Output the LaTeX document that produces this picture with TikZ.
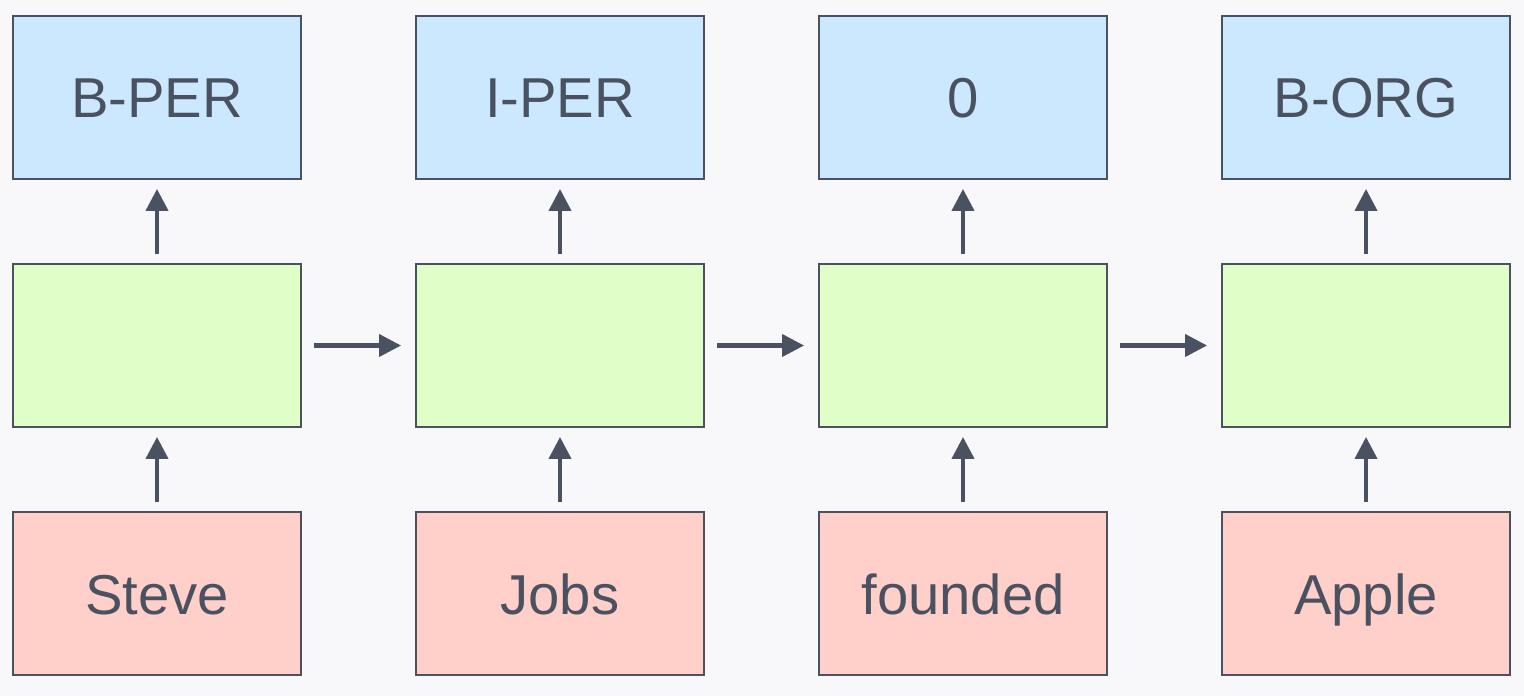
\documentclass[tikz,border=0pt]{standalone}
\usepackage{fontspec}
\setmainfont{Liberation Sans}
\usetikzlibrary{arrows.meta,positioning}
\definecolor{ink}{HTML}{4A5160}
\definecolor{paper}{HTML}{F8F8FA}
\definecolor{tagfill}{HTML}{CCE8FF}
\definecolor{cellfill}{HTML}{E0FFC8}
\definecolor{wordfill}{HTML}{FFD0C9}
\begin{document}
\begin{tikzpicture}[x=0.02cm,y=-0.02cm,font=\fontsize{32}{38}\selectfont,
    box/.style={draw=ink,line width=1.1pt,minimum width=5.76cm,minimum height=3.26cm,inner sep=0pt,text=ink,text height=1.0cm,text depth=0.18cm},
    tag/.style={box,fill=tagfill},
    cell/.style={box,fill=cellfill},
    word/.style={box,fill=wordfill},
    flow/.style={-{Triangle[length=0.44cm,width=0.44cm]},ink,line width=2.3pt}]
                \fill[paper] (0,0) rectangle (1524,696);
                \useasboundingbox (0,0) rectangle (1524,696);
                % output tags
                \node[tag] (t1) at (157,97.5) {B-PER};
                \node[tag] (t2) at (560,97.5) {I-PER};
                \node[tag] (t3) at (963,97.5) {0};
                \node[tag] (t4) at (1366,97.5) {B-ORG};
                % hidden cells
                \node[cell] (h1) at (157,345.5) {};
                \node[cell] (h2) at (560,345.5) {};
                \node[cell] (h3) at (963,345.5) {};
                \node[cell] (h4) at (1366,345.5) {};
                % input words
                \node[word] (w1) at (157,593.5) {Steve};
                \node[word] (w2) at (560,593.5) {Jobs};
                \node[word] (w3) at (963,593.5) {founded};
                \node[word] (w4) at (1366,593.5) {Apple};
                \draw[flow,shorten <=0.18cm,shorten >=0.18cm] (w1)--(h1);
                \draw[flow,shorten <=0.18cm,shorten >=0.18cm] (w2)--(h2);
                \draw[flow,shorten <=0.18cm,shorten >=0.18cm] (w3)--(h3);
                \draw[flow,shorten <=0.18cm,shorten >=0.18cm] (w4)--(h4);
                \draw[flow,shorten <=0.18cm,shorten >=0.18cm] (h1)--(t1);
                \draw[flow,shorten <=0.18cm,shorten >=0.18cm] (h2)--(t2);
                \draw[flow,shorten <=0.18cm,shorten >=0.18cm] (h3)--(t3);
                \draw[flow,shorten <=0.18cm,shorten >=0.18cm] (h4)--(t4);
                \draw[flow,shorten <=0.24cm,shorten >=0.28cm] (h1)--(h2);
                \draw[flow,shorten <=0.24cm,shorten >=0.28cm] (h2)--(h3);
                \draw[flow,shorten <=0.24cm,shorten >=0.28cm] (h3)--(h4);
            \end{tikzpicture}
\end{document}
